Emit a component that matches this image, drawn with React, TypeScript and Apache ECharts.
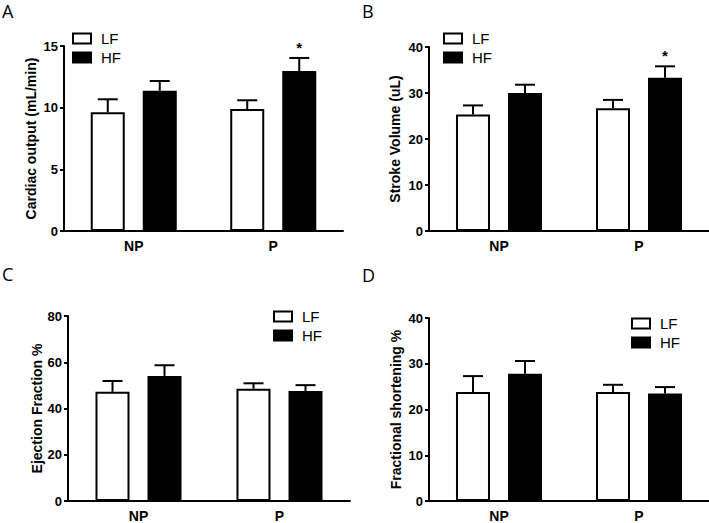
import React, { useEffect, useRef } from "react";
import * as echarts from "echarts";

const categories = ["NP", "P"];
const seriesNames = ["LF", "HF"];
const panelLetters = ["A", "B", "C", "D"];
const yNames = [
  "Cardiac output (mL/min)",
  "Stroke Volume (uL)",
  "Ejection Fraction %",
  "Fractional shortening %",
];
const yMax = [15, 40, 80, 40];
const yInterval = [5, 10, 20, 10];

// A: cardiac output
const coLF = [9.62, 9.89];
const coHF = [11.37, 12.97];
const coLFErr = [1.06, 0.71];
const coHFErr = [0.79, 1.06];
// B: stroke volume
const svLF = [25.3, 26.7];
const svHF = [30.0, 33.3];
const svLFErr = [2.0, 1.8];
const svHFErr = [1.8, 2.5];
// C: ejection fraction
const efLF = [47.2, 48.5];
const efHF = [54.1, 47.6];
const efLFErr = [4.7, 2.4];
const efHFErr = [4.6, 2.5];
// D: fractional shortening
const fsLF = [23.8, 23.8];
const fsHF = [27.8, 23.5];
const fsLFErr = [3.5, 1.6];
const fsHFErr = [2.8, 1.4];
// significance marks on HF bars
const coStars = ["", "*"];
const svStars = ["", "*"];
const efStars = ["", ""];
const fsStars = ["", ""];

const FONT = "'Liberation Sans', Arial, sans-serif";

export default function App() {
  const ref = useRef<HTMLDivElement>(null);
  useEffect(() => {
    if (!ref.current) return;
    const chart = echarts.init(ref.current, null, { renderer: "svg" });

    const panels = [
      { lf: coLF, hf: coHF, lfE: coLFErr, hfE: coHFErr, stars: coStars },
      { lf: svLF, hf: svHF, lfE: svLFErr, hfE: svHFErr, stars: svStars },
      { lf: efLF, hf: efHF, lfE: efLFErr, hfE: efHFErr, stars: efStars },
      { lf: fsLF, hf: fsHF, lfE: fsLFErr, hfE: fsHFErr, stars: fsStars },
    ];
    const grids = [
      { left: 64, top: 46, width: 279, height: 185 },
      { left: 429, top: 47, width: 280, height: 184 },
      { left: 68, top: 316, width: 282, height: 185 },
      { left: 429, top: 318, width: 280, height: 186 },
    ];
    const nameGaps = [26, 27, 23, 26];
    const legendPos = [
      { left: 72, top: 31 },
      { left: 443, top: 31 },
      { left: 273, top: 309 },
      { left: 631, top: 316 },
    ];
    const titlePos = [
      { left: 0, top: 0 },
      { left: 360, top: 0 },
      { left: 0, top: 263 },
      { left: 360, top: 264 },
    ];
    const BAR_W = 34;
    const OFFSET = 26;

    const series: any[] = [];
    panels.forEach((p, i) => {
      series.push({
        type: "bar",
        name: seriesNames[0],
        xAxisIndex: i,
        yAxisIndex: i,
        data: p.lf,
        barWidth: BAR_W,
        barGap: "53%",
        itemStyle: { color: "#ffffff", borderColor: "#000", borderWidth: 2 },
        emphasis: { disabled: true },
      });
      series.push({
        type: "bar",
        name: seriesNames[1],
        xAxisIndex: i,
        yAxisIndex: i,
        data: p.hf,
        barWidth: BAR_W,
        barGap: "53%",
        itemStyle: { color: "#000000", borderColor: "#000", borderWidth: 2 },
        emphasis: { disabled: true },
      });
      [
        { means: p.lf, errs: p.lfE, off: -OFFSET, stars: null as string[] | null },
        { means: p.hf, errs: p.hfE, off: OFFSET, stars: p.stars },
      ].forEach((s) => {
        series.push({
          type: "custom",
          xAxisIndex: i,
          yAxisIndex: i,
          silent: true,
          z: 5,
          data: s.means.map((m, k) => [k, m, s.errs[k]]),
          renderItem: (params: any, api: any) => {
            const x = api.value(0);
            const m = api.value(1);
            const e = api.value(2);
            const base = api.coord([x, m]);
            const top = api.coord([x, m + e]);
            const cx = base[0] + s.off;
            const children: any[] = [
              {
                type: "line",
                shape: { x1: cx, y1: base[1], x2: cx, y2: top[1] },
                style: { stroke: "#000", lineWidth: 2 },
              },
              {
                type: "line",
                shape: { x1: cx - 10, y1: top[1], x2: cx + 10, y2: top[1] },
                style: { stroke: "#000", lineWidth: 2 },
              },
            ];
            const star = s.stars ? s.stars[params.dataIndex] : "";
            if (star) {
              children.push({
                type: "text",
                x: cx,
                y: top[1] - 3,
                style: {
                  text: star,
                  fill: "#000",
                  font: `bold 15px ${FONT}`,
                  align: "center",
                  verticalAlign: "bottom",
                },
              });
            }
            return { type: "group", children };
          },
        });
      });
    });

    const option: any = {
      animation: false,
      backgroundColor: "#ffffff",
      title: panelLetters.map((t, i) => ({
        text: t,
        left: titlePos[i].left,
        top: titlePos[i].top,
        padding: 2,
        textStyle: {
          fontSize: 18,
          fontWeight: "normal",
          color: "#000",
          fontFamily: "'Open Sans', 'DejaVu Sans', sans-serif",
        },
      })),
      legend: legendPos.map((lp) => ({
        orient: "vertical",
        left: lp.left,
        top: lp.top,
        padding: 0,
        itemWidth: 18,
        itemHeight: 10,
        itemGap: 4,
        selectedMode: false,
        textStyle: { fontSize: 15, color: "#000", fontFamily: FONT, padding: [0, 0, 0, 5] },
        data: [
          { name: "LF", icon: "rect", itemStyle: { color: "#fff", borderColor: "#000", borderWidth: 2 } },
          { name: "HF", icon: "rect", itemStyle: { color: "#000", borderColor: "#000", borderWidth: 2 } },
        ],
      })),
      grid: grids.map((g) => ({ ...g, containLabel: false })),
      xAxis: grids.map((_, i) => ({
        type: "category",
        gridIndex: i,
        data: categories,
        axisLine: { lineStyle: { color: "#000", width: 2 } },
        axisTick: { alignWithLabel: true, length: 4, lineStyle: { color: "#000", width: 2 } },
        axisLabel: { color: "#000", fontWeight: "bold", fontSize: 14, fontFamily: FONT, margin: 8 },
        splitLine: { show: false },
      })),
      yAxis: grids.map((_, i) => ({
        type: "value",
        gridIndex: i,
        min: 0,
        max: yMax[i],
        interval: yInterval[i],
        name: yNames[i],
        nameLocation: "middle",
        nameGap: nameGaps[i],
        nameTextStyle: { color: "#000", fontWeight: "bold", fontSize: 14, fontFamily: FONT },
        axisLine: { show: true, lineStyle: { color: "#000", width: 2 } },
        axisTick: { show: true, length: 4, lineStyle: { color: "#000", width: 2 } },
        axisLabel: { color: "#000", fontWeight: "bold", fontSize: 13, fontFamily: FONT, margin: 6 },
        splitLine: { show: false },
      })),
      series,
    };
    chart.setOption(option);
    return () => chart.dispose();
  }, []);
  return (
    <div
      ref={ref}
      style={{ position: "fixed", left: 0, top: 0, width: 709, height: 523 }}
    />
  );
}
